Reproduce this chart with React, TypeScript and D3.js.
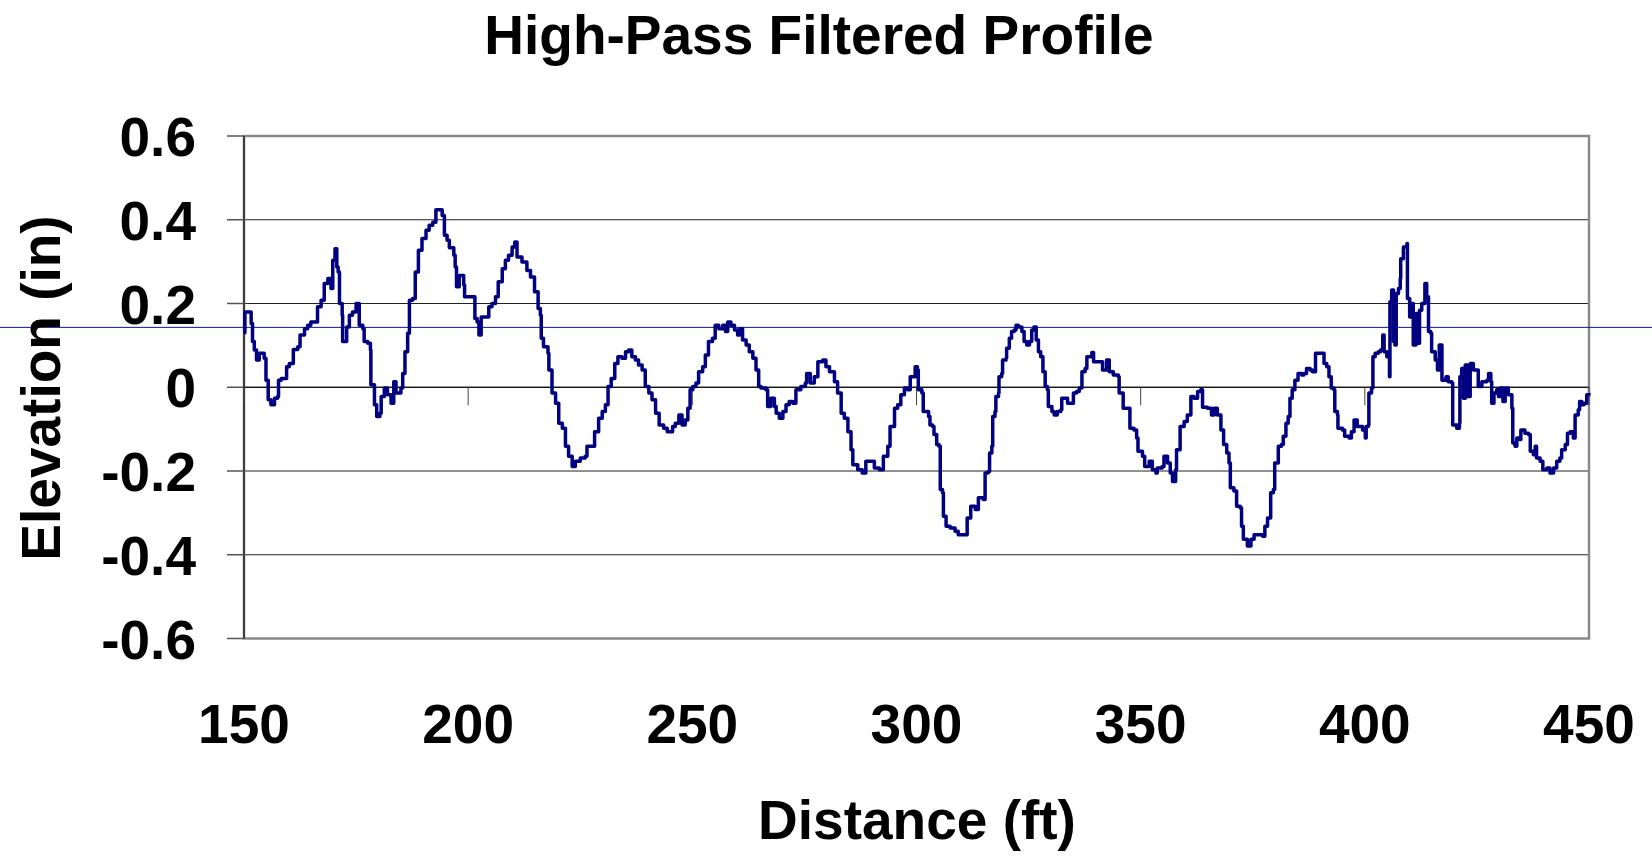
import React from 'react';
import * as d3 from 'd3';

// distance along the profile (ft) and high-pass elevation (in)
const distances = [
  150.0, 150.2, 151.6, 151.9, 152.3, 152.8, 153.4, 154.5, 154.9, 155.4, 156.0, 156.8, 157.5, 157.7, 158.3, 159.5,
  160.1, 161.0, 162.0, 162.5, 163.5, 164.2, 164.9, 166.4, 167.2, 167.9, 168.7, 169.4, 169.8, 170.3, 170.7, 171.0,
  171.3, 171.9, 172.0, 172.9, 173.5, 174.2, 175.0, 175.7, 176.5, 176.8, 177.6, 178.2, 178.3, 179.1, 179.6, 180.3,
  180.6, 181.3, 182.0, 182.8, 183.4, 183.9, 185.0, 185.4, 185.9, 186.5, 186.9, 187.6, 188.2, 188.9, 189.7, 190.6,
  191.3, 192.1, 192.8, 194.2, 194.7, 195.3, 195.8, 196.8, 197.1, 197.4, 198.0,
  199.0, 199.2, 201.5, 202.0, 202.4, 202.9, 204.6, 205.3, 206.1, 206.7, 207.6, 208.3, 209.0, 209.8, 210.4, 210.9,
  212.0, 213.1, 213.9, 214.8, 215.6, 216.1, 216.3, 216.8, 217.8, 218.0, 218.7, 219.5, 220.2, 221.0, 221.7, 222.4,
  223.2, 223.9, 225.0, 226.1, 226.5, 228.2, 229.1, 229.9, 230.6, 231.2, 231.9, 232.7, 233.4, 234.3, 235.1, 235.8,
  236.5, 237.3, 238.0, 238.8, 239.5, 240.3, 241.0, 241.8, 242.6, 243.6, 244.4, 245.6, 246.2, 247.0, 247.7, 248.4,
  249.0,
  249.5, 250.1, 250.8, 251.4, 252.3, 252.9, 253.6, 254.5, 255.1, 255.9, 256.8, 257.4, 257.9, 258.6, 259.4, 260.1,
  260.6, 261.2, 262.0, 262.7, 263.5, 264.2, 264.8, 265.3, 266.4, 266.8, 267.5, 268.3, 268.7, 269.4, 270.2, 270.9,
  271.6, 272.4, 273.1, 274.2, 275.2, 275.5, 276.3, 277.2, 278.0, 279.1, 279.8, 280.6, 281.7, 282.4, 283.2, 283.9,
  284.7, 285.4, 285.8, 286.9, 287.9, 288.7, 289.9, 290.6, 291.7, 292.6, 293.6, 294.1, 295.1, 295.8, 296.5, 297.3,
  298.0,
  298.6, 299.7, 300.2, 300.4, 301.2, 301.5, 302.7, 303.0, 303.6, 303.9, 304.5, 305.0, 305.3, 305.8, 306.0, 306.6,
  307.5, 308.6, 309.3, 311.3, 312.1, 313.1, 313.8, 314.9, 315.3, 316.0, 316.3, 316.8, 317.0, 317.5, 317.7, 318.3,
  318.4, 319.0, 319.2, 320.0, 320.1, 320.7, 321.2, 321.8, 322.2, 322.7, 323.5, 324.0, 324.6, 325.2, 325.7, 326.2,
  326.7, 327.2, 327.7, 328.2, 328.7, 329.2, 329.4, 330.2, 330.7, 331.4, 332.2, 332.4, 333.7, 335.0, 335.7, 336.3,
  336.9, 337.6, 338.0, 339.1, 339.5, 341.5, 342.4, 343.0, 343.9, 345.0, 345.2, 346.1, 347.6, 348.5,
  349.1, 349.4, 350.4, 350.9, 351.9, 352.6, 353.4, 353.7, 354.8, 355.2, 356.0, 356.6, 357.1, 357.8, 358.0, 358.8,
  359.7, 360.4, 361.2, 361.9, 362.7, 363.4, 363.8, 364.9, 365.8, 366.4, 367.1, 367.9, 368.5, 369.2, 369.7, 370.0,
  370.8, 371.4, 372.2, 372.5, 372.9, 373.8, 374.6, 375.3, 377.2, 377.7, 378.3, 379.0, 379.6, 379.9, 380.7, 381.4,
  381.8, 382.4, 382.9, 383.3, 383.8, 384.4, 385.1, 385.9, 386.4, 387.0, 387.8, 388.3, 389.0, 390.9, 391.5, 392.0,
  392.5, 393.1, 393.3, 393.9, 394.0, 395.0, 395.5, 396.5, 397.0, 397.6, 398.3, 399.1,
  399.5, 400.1, 400.3, 400.8, 400.9, 401.5, 401.8, 402.3, 403.0, 403.5, 404.0, 404.3, 404.9, 405.5, 405.6, 406.0,
  406.4, 406.7, 407.0, 407.5, 407.9, 408.0, 408.6, 409.4, 409.5, 410.0, 410.5, 410.8, 411.4, 411.7, 412.2, 412.7,
  413.4, 413.8, 414.2, 414.7, 414.9, 415.7, 416.2, 416.6, 417.2, 418.1, 418.6, 419.4, 419.6, 420.5, 421.1, 421.2,
  421.6, 422.0, 422.4, 422.9, 423.5, 424.2, 425.3, 426.1, 427.2, 427.6, 428.1, 428.3, 428.8, 429.4, 429.8, 430.2,
  430.8, 431.3, 432.0, 432.8, 433.0, 433.5, 433.9, 434.5, 434.8, 435.7, 436.5, 436.9, 437.6, 438.0, 438.3, 439.1,
  439.7, 440.6, 441.3, 442.1, 442.8, 443.5, 443.9, 444.7, 445.2, 445.8, 446.5, 446.9, 447.6, 447.9, 448.4, 448.9,
  449.5, 450.0,
];

const elevations = [
  0.13, 0.18, 0.152, 0.109, 0.089, 0.065, 0.081, 0.069, 0.017, -0.03, -0.042, -0.026, -0.022, 0.017, 0.021, 0.049,
  0.057, 0.09, 0.097, 0.125, 0.14, 0.148, 0.156, 0.192, 0.208, 0.248, 0.26, 0.236, 0.303, 0.331, 0.287, 0.275,
  0.2, 0.172, 0.109, 0.144, 0.172, 0.18, 0.2, 0.148, 0.14, 0.109, 0.105, 0.089, 0.006, -0.042, -0.07, -0.062,
  -0.022, -0.002, -0.018, -0.038, 0.013, -0.014, -0.002, 0.033, 0.085, 0.129, 0.208, 0.212, 0.275, 0.327, 0.355, 0.375,
  0.387, 0.394, 0.424, 0.41, 0.363, 0.351, 0.333, 0.315, 0.287, 0.24, 0.267,
  0.244, 0.216, 0.164, 0.156, 0.125, 0.168, 0.192, 0.2, 0.216, 0.252, 0.283, 0.303, 0.315, 0.335, 0.347, 0.311,
  0.299, 0.279, 0.263, 0.228, 0.188, 0.172, 0.117, 0.097, 0.081, 0.041, -0.014, -0.038, -0.086, -0.098, -0.141, -0.165,
  -0.189, -0.177, -0.169, -0.165, -0.141, -0.106, -0.074, -0.058, -0.042, 0.002, 0.021, 0.057, 0.073, 0.069, 0.085, 0.089,
  0.073, 0.065, 0.053, 0.041, 0.002, -0.014, -0.03, -0.062, -0.09, -0.098, -0.106, -0.094, -0.086, -0.066, -0.09, -0.078,
  -0.05,
  -0.006, 0.002, 0.01, 0.037, 0.049, 0.077, 0.109, 0.117, 0.148, 0.14, 0.148, 0.133, 0.156, 0.148, 0.137, 0.125,
  0.14, 0.113, 0.101, 0.085, 0.069, 0.041, 0.002, -0.002, -0.006, -0.046, -0.026, -0.046, -0.062, -0.074, -0.058, -0.042,
  -0.034, -0.038, -0.006, 0.002, 0.01, 0.033, 0.01, 0.025, 0.061, 0.065, 0.049, 0.037, 0.013, -0.014, -0.062, -0.074,
  -0.106, -0.149, -0.185, -0.197, -0.205, -0.177, -0.177, -0.193, -0.197, -0.165, -0.141, -0.094, -0.05, -0.042, -0.018, -0.002,
  -0.006,
  0.025, 0.049, 0.041, -0.006, -0.014, -0.058, -0.07, -0.09, -0.094, -0.113, -0.137, -0.141, -0.244, -0.252, -0.308, -0.332,
  -0.336, -0.344, -0.352, -0.312, -0.284, -0.292, -0.264, -0.268, -0.205, -0.201, -0.157, -0.141, -0.07, -0.058, -0.022, -0.014,
  0.025, 0.033, 0.065, 0.069, 0.093, 0.117, 0.133, 0.137, 0.148, 0.144, 0.133, 0.109, 0.101, 0.109, 0.137, 0.144,
  0.113, 0.085, 0.073, 0.037, 0.002, -0.006, -0.046, -0.058, -0.066, -0.058, -0.054, -0.026, -0.038, -0.014, -0.01, -0.002,
  0.037, 0.045, 0.073, 0.083, 0.061, 0.041, 0.065, 0.037, 0.029, 0.025, -0.014, -0.05, -0.098, -0.102,
  -0.121, -0.153, -0.165, -0.189, -0.177, -0.197, -0.205, -0.193, -0.189, -0.165, -0.181, -0.205, -0.225, -0.197, -0.149, -0.094,
  -0.082, -0.066, -0.022, -0.026, -0.01, -0.006, -0.048, -0.05, -0.066, -0.05, -0.066, -0.102, -0.137, -0.157, -0.181, -0.24,
  -0.248, -0.284, -0.288, -0.332, -0.363, -0.379, -0.363, -0.352, -0.356, -0.332, -0.312, -0.252, -0.244, -0.181, -0.141, -0.137,
  -0.117, -0.086, -0.07, -0.026, -0.006, 0.017, 0.033, 0.029, 0.033, 0.045, 0.041, 0.037, 0.081, 0.057, 0.049, 0.025,
  -0.002, -0.006, -0.058, -0.066, -0.098, -0.102, -0.117, -0.121, -0.106, -0.078, -0.094, -0.094,
  -0.102, -0.121, -0.094, -0.09, -0.014, -0.002, 0.073, 0.081, 0.085, 0.089, 0.125, 0.085, 0.073, 0.025, 0.204, 0.232,
  0.109, 0.101, 0.224, 0.236, 0.26, 0.307, 0.335, 0.343, 0.212, 0.168, 0.2, 0.101, 0.176, 0.105, 0.184, 0.2,
  0.248, 0.216, 0.133, 0.129, 0.085, 0.065, 0.041, 0.101, 0.017, 0.025, 0.013, 0.01, -0.09, -0.098, -0.086, 0.025,
  0.045, -0.026, 0.053, -0.022, 0.057, 0.041, 0.002, 0.013, 0.017, 0.033, 0.013, -0.038, -0.014, -0.006, -0.022, -0.002,
  -0.034, -0.002, -0.018, -0.05, -0.133, -0.141, -0.121, -0.125, -0.102, -0.11, -0.113, -0.153, -0.161, -0.141, -0.169, -0.177,
  -0.197, -0.193, -0.205, -0.193, -0.177, -0.169, -0.149, -0.137, -0.11, -0.106, -0.121, -0.066, -0.054, -0.034, -0.042, -0.038,
  -0.018, -0.014,
];

const xTicks = [150, 200, 250, 300, 350, 400, 450];
const yTicks = [-0.6, -0.4, -0.2, 0, 0.2, 0.4, 0.6];
const refLevel = 0.143; // thin blue reference line drawn across the page

const W = 1652;
const H = 856;
const FONT = 'Arial, "Liberation Sans", Helvetica, sans-serif';

export default function App() {
  const x = d3.scaleLinear().domain([150, 450]).range([244, 1589]);
  const y = d3.scaleLinear().domain([-0.6, 0.6]).range([638.5, 136]);

  const points = distances.map((d, i) => [d, elevations[i]] as [number, number]);
  const line = d3
    .line<[number, number]>()
    .x((d) => x(d[0]))
    .y((d) => y(d[1]))
    .curve(d3.curveStepAfter);

  const [x0, x1] = x.range();
  const [yb, yt] = y.range();
  // plain hyphen for negatives, like the original
  const fmt = (v: number) => (v === 0 ? '0' : v.toFixed(1));

  return (
    <svg
      width={W}
      height={H}
      style={{ position: 'absolute', left: 0, top: 0, background: '#fff' }}
      fontFamily={FONT}
    >
      <rect width={W} height={H} fill="#fff" />

      {/* gridlines */}
      {yTicks
        .filter((t) => t !== 0.6 && t !== -0.6)
        .map((t) => (
          <line key={t} x1={x0} x2={x1} y1={y(t)} y2={y(t)} stroke="#222" strokeWidth={1} />
        ))}

      {/* plot border */}
      <rect x={x0} y={yt} width={x1 - x0} height={yb - yt} fill="none" stroke="#8a8a8a" strokeWidth={2.5} />

      {/* y axis */}
      <line x1={x0} x2={x0} y1={yt} y2={yb} stroke="#222" strokeWidth={1.5} />
      {yTicks.map((t) => (
        <g key={t}>
          <line x1={x0 - 17} x2={x0} y1={y(t)} y2={y(t)} stroke="#555" strokeWidth={1.5} />
          <text x={196} y={y(t) + 20} textAnchor="end" fontSize={55} fontWeight="bold">
            {fmt(t)}
          </text>
        </g>
      ))}

      {/* x axis crosses at zero, ticks hang below it */}
      <line x1={x0} x2={x1} y1={y(0)} y2={y(0)} stroke="#000" strokeWidth={1.2} />
      {xTicks.map((t) => (
        <g key={t}>
          <line x1={x(t)} x2={x(t)} y1={y(0)} y2={y(0) + 18} stroke="#444" strokeWidth={1} />
          <text x={x(t)} y={743} textAnchor="middle" fontSize={55} fontWeight="bold">
            {t}
          </text>
        </g>
      ))}

      {/* reference line */}
      <line x1={0} x2={W} y1={y(refLevel)} y2={y(refLevel)} stroke="#0a1a80" strokeWidth={1} />

      {/* profile */}
      <path d={line(points) || ''} fill="none" stroke="#000080" strokeWidth={3.5} strokeLinejoin="round" />

      {/* titles */}
      <text x={819} y={54} textAnchor="middle" fontSize={55} fontWeight="bold">
        High-Pass Filtered Profile
      </text>
      <text x={917} y={839} textAnchor="middle" fontSize={55} fontWeight="bold">
        Distance (ft)
      </text>
      <text
        transform={`translate(60,388) rotate(-90)`}
        textAnchor="middle"
        fontSize={55}
        fontWeight="bold"
      >
        Elevation (in)
      </text>
    </svg>
  );
}
